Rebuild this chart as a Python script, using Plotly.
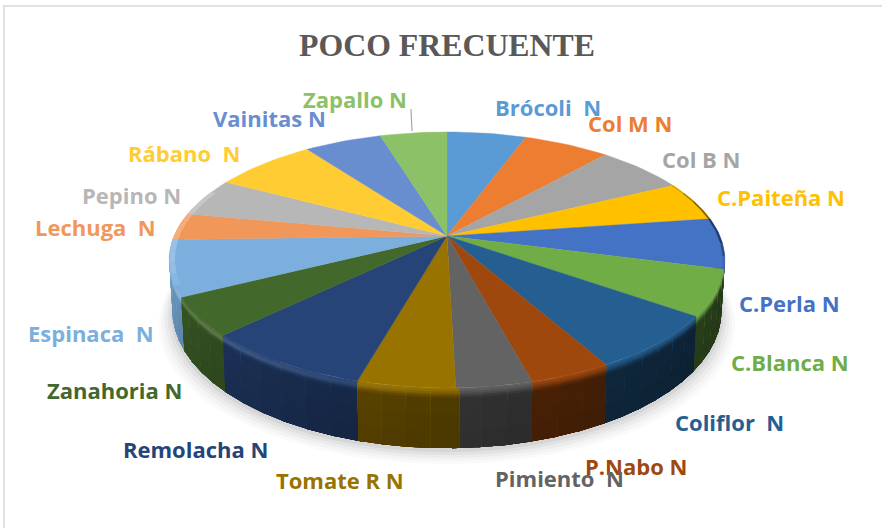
import math
import plotly.graph_objects as go

# ---- data -------------------------------------------------------------
categories = ["Brócoli", "Col M", "Col B", "C.Paiteña", "C.Perla", "C.Blanca",
              "Coliflor", "P.Nabo", "Pimiento", "Tomate R", "Remolacha",
              "Zanahoria", "Espinaca", "Lechuga", "Pepino", "Rábano",
              "Vainitas", "Zapallo"]
values = [5.5, 6.0, 6.2, 5.0, 6.4, 5.75, 7.0, 4.0, 3.7, 4.75, 8.3,
          4.85, 7.05, 3.4, 4.9, 7.1, 5.38, 4.65]
labels = ["Brócoli\u00a0\u00a0N", "Col M N", "Col B N", "C.Paiteña N", "C.Perla N",
          "C.Blanca N", "Coliflor\u00a0\u00a0N", "P.Nabo N", "Pimiento\u00a0\u00a0N",
          "Tomate R N", "Remolacha N", "Zanahoria N", "Espinaca\u00a0\u00a0N",
          "Lechuga\u00a0\u00a0N", "Pepino N", "Rábano\u00a0\u00a0N", "Vainitas N", "Zapallo N"]

# ---- styling ----------------------------------------------------------
colors = ["#5B9BD5", "#ED7D31", "#A5A5A5", "#FFC000", "#4472C4", "#70AD47",
          "#255E91", "#9E480E", "#636363", "#997300", "#264478", "#43682B",
          "#7CAFDD", "#F1975A", "#B7B7B7", "#FFCD33", "#698ED0", "#8CC168"]
label_xy = [(548, 107), (630, 123), (701, 159), (781, 197), (789, 303), (790, 362),
            (729, 422), (636, 466), (559, 478), (340, 480), (195, 449), (114, 390),
            (91, 333), (95, 227), (131, 195), (184, 153), (269, 118), (355, 99)]
CX, CY, A, B, P, H = 447, 236, 273, 123.5, 0.187, 49


def proj(theta, r=1.0, z=0.0):
    X = r * math.sin(math.radians(theta))
    Y = r * math.cos(math.radians(theta))
    w = 1 + P * Y
    shrink = 1 - 0.012 * z
    return CX + A * X / w * shrink, CY - B * Y / w + H * z / w


def rgb(c):
    return [int(c[i:i + 2], 16) for i in (1, 3, 5)]


def mix(a, b, u):
    return [a[i] + (b[i] - a[i]) * u for i in range(3)]


def css(c):
    return "rgb(%d,%d,%d)" % tuple(max(0, min(255, round(v))) for v in c)


def poly(fig, pts, color, width=0.0):
    xs = [p[0] for p in pts] + [pts[0][0]]
    ys = [p[1] for p in pts] + [pts[0][1]]
    fig.add_trace(go.Scatter(x=xs, y=ys, mode="lines", fill="toself", fillcolor=color,
                             line=dict(color=color, width=width), hoverinfo="skip",
                             showlegend=False))


def light(theta):
    pts = [(85, .30), (110, .34), (150, .42), (180, .52), (225, .72), (262, .92), (280, .95)]
    for (a0, v0), (a1, v1) in zip(pts, pts[1:]):
        if a0 <= theta <= a1:
            return v0 + (v1 - v0) * (theta - a0) / (a1 - a0)
    return .5


def highlight(theta):
    if theta < 180:
        return 0.0
    return min(1.0, (theta - 180) / 50) * 0.28


total = sum(values)
spans = []
acc = 0.0
for v in values:
    spans.append((acc / total * 360, (acc + v) / total * 360))
    acc += v


def chunks(a0, a1, step):
    n = max(1, math.ceil((a1 - a0) / step))
    return [(a0 + (a1 - a0) * i / n, a0 + (a1 - a0) * (i + 1) / n) for i in range(n)]


fig = go.Figure()

# chart frame
fig.add_shape(type="line", x0=4, x1=4, y0=5, y1=528, line=dict(color="#D9D9D9", width=1.5))
fig.add_shape(type="line", x0=4, x1=882, y0=6, y1=6, line=dict(color="#D9D9D9", width=1.5))

# soft shadow below the disc
arc = [t * 1.0 for t in range(80, 285, 4)]
for grow, drop, op in [(14, 16, .018), (11, 13, .025), (8, 10, .03), (5, 7, .04), (2, 4, .05)]:
    pts = []
    for t in arc:
        x, y = proj(t, 1.0, 1.0)
        x += grow * math.sin(math.radians(t))
        pts.append((x, y + drop))
    fig.add_trace(go.Scatter(x=[p[0] for p in pts] + [pts[0][0]],
                             y=[p[1] for p in pts] + [pts[0][1]],
                             mode="lines", fill="toself",
                             fillcolor="rgba(0,0,0,%g)" % op,
                             line=dict(width=0), hoverinfo="skip", showlegend=False))

# side wall, painted from the two ends toward the front; each piece runs under the next
walls = []
for i, (a0, a1) in enumerate(spans):
    lo, hi = max(a0, 88), min(a1, 278)
    if hi > lo:
        walls += [(i, c0, c1) for c0, c1 in chunks(lo, hi, 5)]
walls.sort(key=lambda w: abs((w[1] + w[2]) / 2 - 180), reverse=True)
strips = [0, .03, .06, .09, .12, .16, .22, .45, .72, 1.0]
WHITE = [255, 255, 255]
for i, c0, c1 in walls:
    top = rgb(colors[i])
    mid = (c0 + c1) / 2
    wall = [v * light(mid) for v in top]
    if mid < 180:
        e0, e1 = c0, c1 + .6
    else:
        e0, e1 = c0 - .6, c1
    for t0, t1 in zip(strips, strips[1:]):
        t = (t0 + t1) / 2
        if t < .16:
            u = t / .16
            base = mix(top, WHITE, highlight(mid) * (1 - abs(2 * u - 1)))
            col = mix(base, wall, u ** 1.4)
        else:
            col = [v * (1 - .08 * t) for v in wall]
        poly(fig, [proj(e0, 1, t0), proj(e1, 1, t0), proj(e1, 1, 1.0), proj(e0, 1, 1.0)], css(col))

# top face
for i, (a0, a1) in enumerate(spans):
    steps = chunks(a0, a1, 2)
    pts = [(CX, CY)] + [proj(a0)] + [proj(s[1]) for s in steps]
    poly(fig, pts, colors[i], 0.4)

# rim of the top face: lit on the far left, a thin dark edge on the right
for i, (a0, a1) in enumerate(spans):
    top = rgb(colors[i])
    for c0, c1 in chunks(a0, a1, 6):
        mid = (c0 + c1) / 2
        if 246 < mid < 290:
            amt = .22 * min(1, (mid - 246) / 12)
            target = WHITE
            r0 = .98
        elif 62 < mid < 104:
            amt = .5 * min(1, min(mid - 62, 104 - mid) / 12)
            target = [0, 0, 0]
            r0 = .992
        else:
            continue
        poly(fig, [proj(c0, r0), proj(c1, r0), proj(c1, 1.0), proj(c0, 1.0)],
             css(mix(top, target, amt)))

# leader line
fig.add_trace(go.Scatter(x=[411, 412], y=[109, 131], mode="lines",
                         line=dict(color="#A6A6A6", width=1.2), hoverinfo="skip",
                         showlegend=False))

# labels
for name, (lx, ly), c in zip(labels, label_xy, colors):
    fig.add_annotation(x=lx, y=ly, text="<b>%s</b>" % name, showarrow=False,
                       xanchor="center", yanchor="middle",
                       font=dict(family="Open Sans", size=22, color=c))

fig.update_layout(
    width=882, height=528, margin=dict(l=0, r=0, t=0, b=0),
    paper_bgcolor="white", plot_bgcolor="white", showlegend=False,
    title=dict(text="<b>POCO FRECUENTE</b>", x=447 / 882, y=1 - 45 / 528,
               xanchor="center", yanchor="middle",
               font=dict(family="Liberation Serif", size=31.8, color="#595959")),
    xaxis=dict(range=[0, 882], visible=False, fixedrange=True),
    yaxis=dict(range=[528, 0], visible=False, fixedrange=True),
)
fig.write_html("out.html", config=dict(displayModeBar=False),
               post_script="document.body.style.margin='0';")
